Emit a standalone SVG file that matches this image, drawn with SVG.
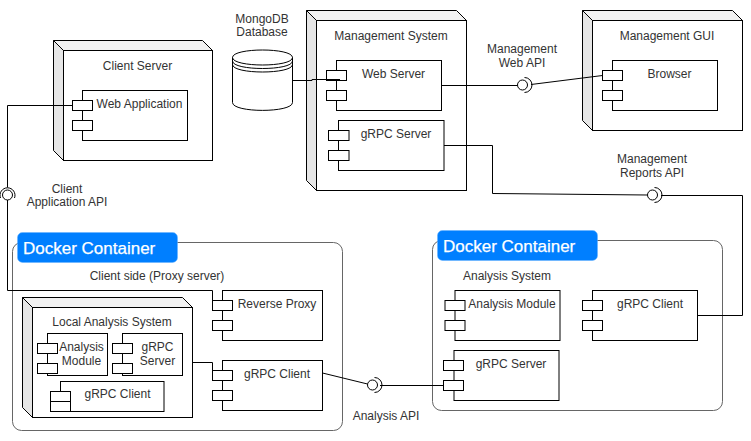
<svg xmlns="http://www.w3.org/2000/svg" width="751" height="441" viewBox="0 0 751 441">
<style>
text{font-family:"Liberation Sans",Arial,sans-serif;font-size:12px;fill:#333;text-anchor:middle}
.s{fill:#fff;stroke:#000;stroke-width:1}
.side{fill:#e6e6e6;stroke:#000;stroke-width:1;stroke-linejoin:round}
.top{fill:#f2f2f2;stroke:#000;stroke-width:1;stroke-linejoin:round}
.c{fill:none;stroke:#000;stroke-width:1}
.box{fill:#fff;stroke:#666;stroke-width:1}
.tag{fill:#007fff;stroke:#66b2ff;stroke-width:.5}
.tagt{font-size:17px;fill:#fff;text-anchor:start;font-weight:400;stroke:#fff;stroke-width:.25}
</style>
<rect width="751" height="441" fill="#fff"/>
<g id="docker-client"><rect class="box" x="12.500" y="242.500" width="330" height="188" rx="9"/><rect class="tag" x="17.500" y="232.500" width="160" height="30" rx="5"/><text class="tagt" x="23" y="254">Docker Container</text><text x="157" y="279.500">Client side (Proxy server)</text></g>
<g id="docker-analysis"><rect class="box" x="432.500" y="240.500" width="290" height="170" rx="9"/><rect class="tag" x="437.500" y="230.500" width="160" height="30" rx="5"/><text class="tagt" x="443" y="252">Docker Container</text><text x="507" y="279.500">Analysis System</text></g>
<g id="client-server"><path class="top" d="M53.500 40.500H202.500L212.500 50.500H63.500Z"/><path class="side" d="M53.500 40.500L63.500 50.500V160.500L53.500 150.500Z"/><rect class="s" x="63.500" y="50.500" width="149" height="110"/><text x="137.500" y="70">Client Server</text></g>
<g id="web-application"><rect class="s" x="82.500" y="90.500" width="105" height="50"/><rect class="s" x="72.500" y="100.500" width="20" height="10"/><rect class="s" x="72.500" y="120.500" width="20" height="10"/><text x="139.500" y="107.500">Web Application</text></g>
<g id="mongodb"><path class="s" d="M232.500 57.500C232.500 47.500 292.500 47.500 292.500 57.500V102.500C292.500 113 232.500 113 232.500 102.500Z"/><path class="c" d="M232.500 57.500C232.500 67.500 292.500 67.500 292.500 57.500M232.500 61C232.500 71 292.500 71 292.500 61M232.500 64.500C232.500 74.500 292.500 74.500 292.500 64.500"/><text x="262" y="23">MongoDB</text><text x="262" y="36">Database</text></g>
<g id="client-api"><text x="67" y="193">Client</text><text x="67" y="206">Application API</text></g>
<g id="management-system"><path class="top" d="M306.500 10.500H456.500L466.500 20.500H316.500Z"/><path class="side" d="M306.500 10.500L316.500 20.500V190.500L306.500 180.500Z"/><rect class="s" x="316.500" y="20.500" width="150" height="170"/><text x="391" y="40">Management System</text></g>
<g id="web-server"><rect class="s" x="336.500" y="60.500" width="105" height="50"/><rect class="s" x="326.500" y="70.500" width="20" height="10"/><rect class="s" x="326.500" y="90.500" width="20" height="10"/><text x="393.500" y="78">Web Server</text></g>
<g id="grpc-server-mgmt"><rect class="s" x="338.500" y="120.500" width="105.500" height="50"/><rect class="s" x="328.500" y="130.500" width="20.500" height="10"/><rect class="s" x="328.500" y="150.500" width="20.500" height="10"/><text x="396" y="138">gRPC Server</text></g>
<g id="management-gui"><path class="top" d="M582.500 10.500H732.500L742.500 20.500H592.500Z"/><path class="side" d="M582.500 10.500L592.500 20.500V130.500L582.500 120.500Z"/><rect class="s" x="592.500" y="20.500" width="150" height="110"/><text x="667" y="40">Management GUI</text></g>
<g id="browser"><rect class="s" x="612.500" y="60.500" width="105" height="50"/><rect class="s" x="602.500" y="70.500" width="20" height="10"/><rect class="s" x="602.500" y="90.500" width="20" height="10"/><text x="669.500" y="78">Browser</text></g>
<g id="api-labels"><text x="522" y="53">Management</text><text x="522" y="67">Web API</text><text x="652" y="163">Management</text><text x="652" y="177">Reports API</text><text x="386" y="420">Analysis API</text></g>
<g id="reverse-proxy"><rect class="s" x="222.500" y="290.500" width="100" height="50"/><rect class="s" x="212.500" y="300.500" width="20" height="10"/><rect class="s" x="212.500" y="320.500" width="20" height="10"/><text x="277" y="308">Reverse Proxy</text></g>
<g id="grpc-client-proxy"><rect class="s" x="222.500" y="360.500" width="100" height="50"/><rect class="s" x="212.500" y="370.500" width="20" height="10"/><rect class="s" x="212.500" y="390.500" width="20" height="10"/><text x="277" y="378">gRPC Client</text></g>
<g id="local-analysis"><path class="top" d="M22.500 297.500H182.500L192.500 307.500H32.500Z"/><path class="side" d="M22.500 297.500L32.500 307.500V417.500L22.500 407.500Z"/><rect class="s" x="32.500" y="307.500" width="160" height="110"/><text x="112" y="325.500">Local Analysis System</text></g>
<g id="analysis-module-local"><rect class="s" x="47.500" y="333.500" width="60" height="42"/><rect class="s" x="37.500" y="343.500" width="20" height="10"/><rect class="s" x="37.500" y="363.500" width="20" height="10"/><text x="81.500" y="351">Analysis</text><text x="81.500" y="365">Module</text></g>
<g id="grpc-server-local"><rect class="s" x="122.500" y="333.500" width="60" height="42"/><rect class="s" x="112.500" y="343.500" width="20" height="10"/><rect class="s" x="112.500" y="363.500" width="20" height="10"/><text x="157.500" y="351">gRPC</text><text x="157.500" y="365">Server</text></g>
<g id="grpc-client-local"><rect class="s" x="60.500" y="381.500" width="103.500" height="30"/><rect class="s" x="50.500" y="391.500" width="20" height="10"/><rect class="s" x="50.500" y="401.500" width="20" height="10"/><text x="117.500" y="398">gRPC Client</text></g>
<g id="analysis-module"><rect class="s" x="455" y="290.500" width="105" height="50"/><rect class="s" x="445" y="300.500" width="20" height="10"/><rect class="s" x="445" y="320.500" width="20" height="10"/><text x="512" y="308">Analysis Module</text></g>
<g id="grpc-client-analysis"><rect class="s" x="592.500" y="290.500" width="105" height="50"/><rect class="s" x="582.500" y="300.500" width="20" height="10"/><rect class="s" x="582.500" y="320.500" width="20" height="10"/><text x="650" y="308">gRPC Client</text></g>
<g id="grpc-server-analysis"><rect class="s" x="454" y="350.500" width="105" height="50"/><rect class="s" x="443.500" y="360.500" width="20" height="10"/><rect class="s" x="443.500" y="380.500" width="20" height="10"/><text x="511" y="368">gRPC Server</text></g>
<g id="connectors">
<path class="c" d="M72.500 105.500H7.500V187.500M7.500 200V290.500H212.500V300.500"/>
<path class="c" d="M0.500 198A7.500 7.500 0 1 1 14.500 198"/>
<circle class="c" cx="7.500" cy="195" r="5"/>
<path class="c" d="M293 80.500H312V79.500H340" />
<path class="c" d="M441.500 85.500H517.500M531 84.500L602.500 75.500"/>
<circle class="c" cx="522.500" cy="85" r="5"/>
<path class="c" d="M524.500 77.500A7.500 7.500 0 0 1 524.500 92.500"/>
<path class="c" d="M444 145.500H492.500V193.500L647.500 195M661 195.500H742.500V315.500H697.500"/>
<circle class="c" cx="652.500" cy="195" r="5"/>
<path class="c" d="M654.500 187.500A7.500 7.500 0 0 1 654.500 202.500"/>
<path class="c" d="M192.500 362.500H212.500V370.500"/>
<path class="c" d="M322.500 373L367.500 384M380 385.500H443.500"/>
<circle class="c" cx="372.500" cy="385" r="5"/>
<path class="c" d="M374.500 377.500A7.500 7.500 0 0 1 374.500 392.500"/>
</g>
</svg>
